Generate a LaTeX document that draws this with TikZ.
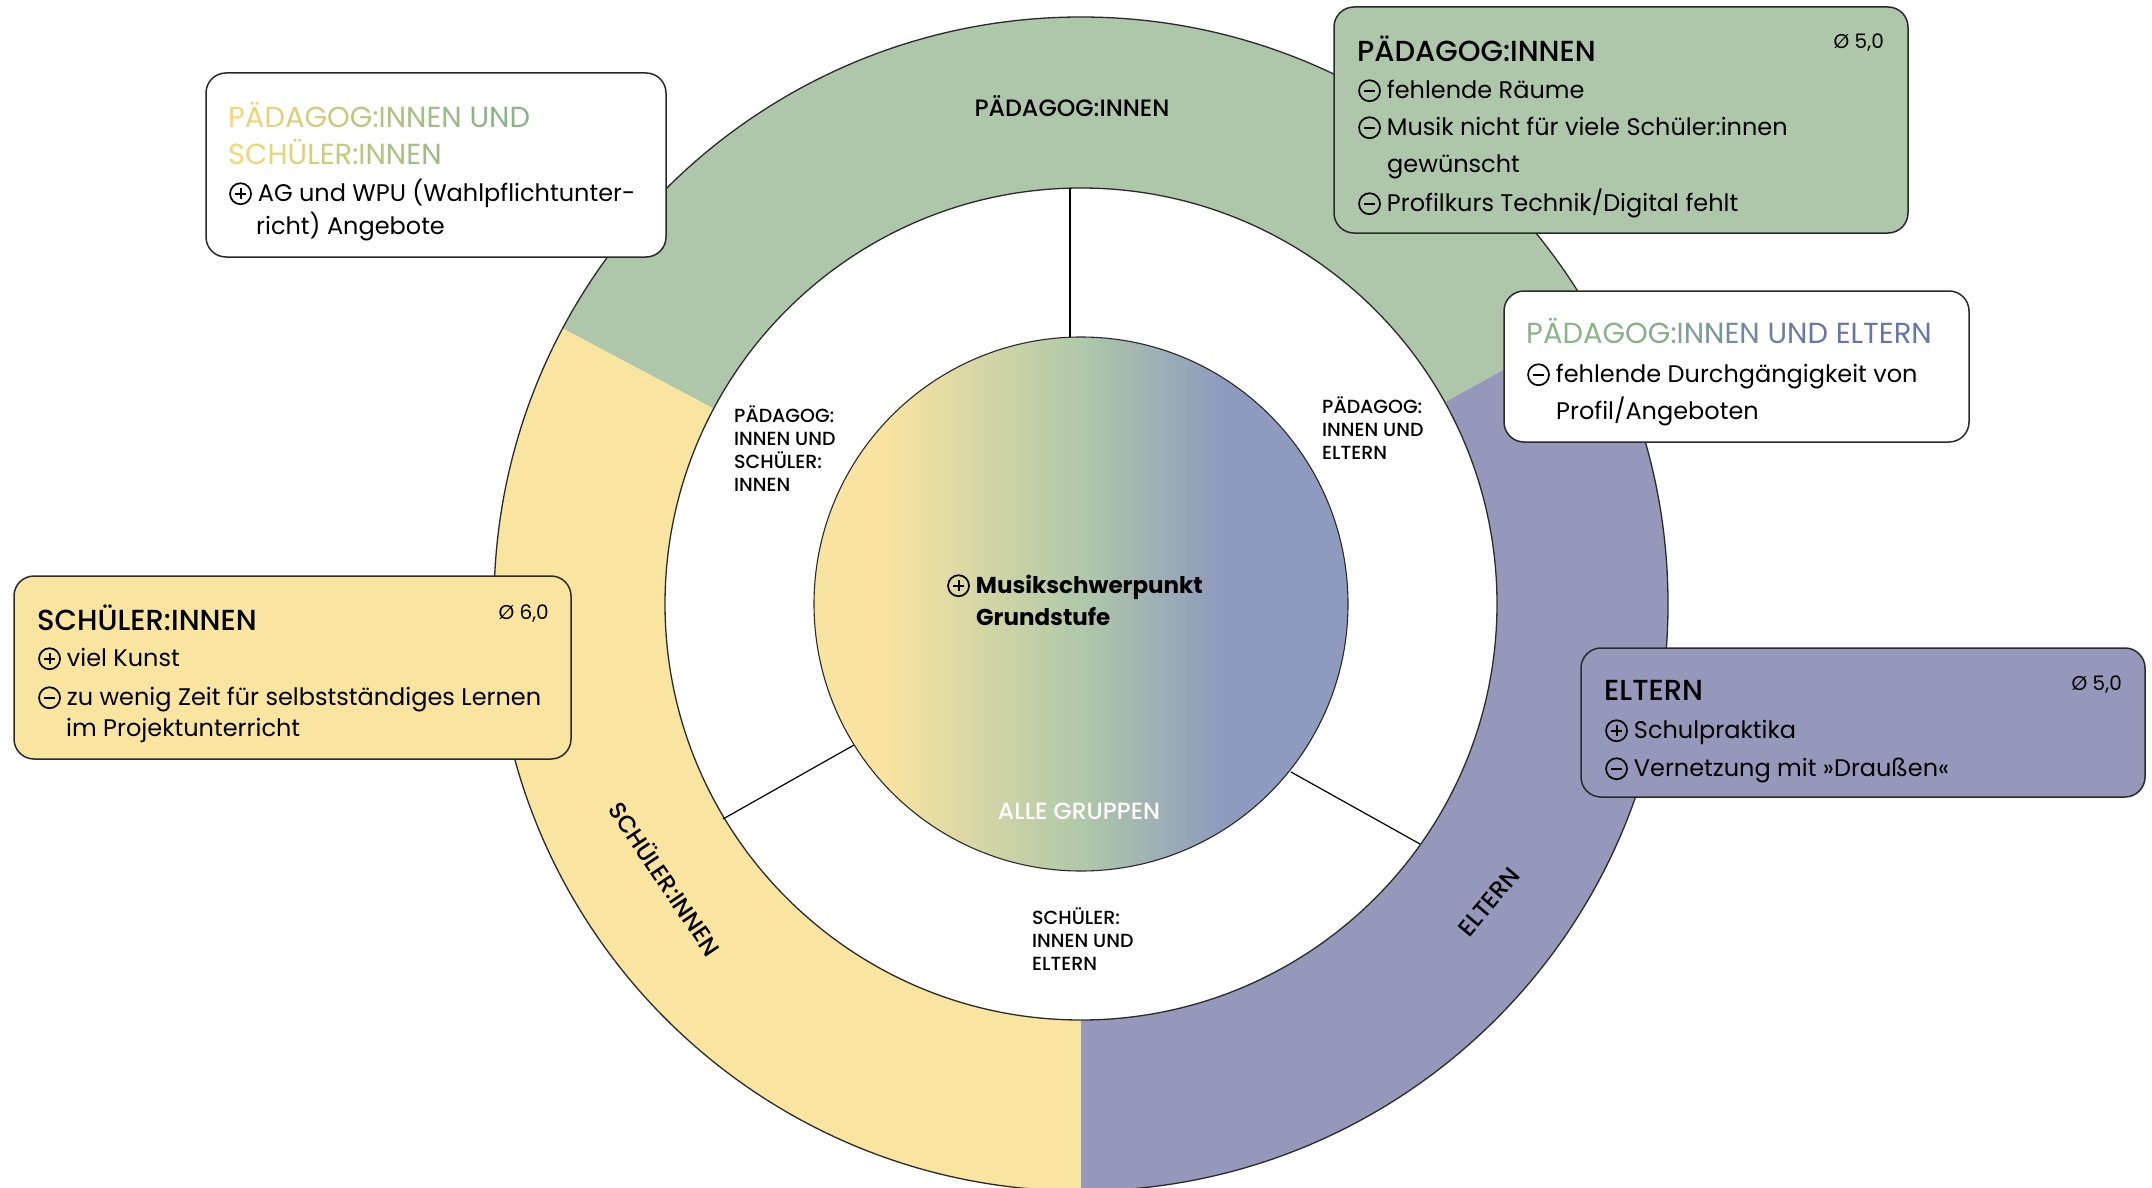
\documentclass[tikz,border=0pt]{standalone}
\usepackage{fontspec}
\setmainfont{Poppins}
\newfontfamily\pmed{Poppins Medium}

% palette
\definecolor{ringgreen}{HTML}{AEC7AA}
\definecolor{ringyellow}{HTML}{F9E4A0}
\definecolor{ringblue}{HTML}{9598BB}
\definecolor{edge}{HTML}{2A2A2A}
\definecolor{tY}{HTML}{F4D872}
\definecolor{tG}{HTML}{8AB588}
\definecolor{tB}{HTML}{6676A9}
\definecolor{cY}{HTML}{F8E3A0}
\definecolor{cG}{HTML}{B0C8AA}
\definecolor{cB}{HTML}{8F9BBE}

% yellow -> green -> blue, flat at both ends
\pgfdeclarehorizontalshading{centregrad}{100bp}{color(0bp)=(cY); color(32bp)=(cY); color(50bp)=(cG); color(63bp)=(cB); color(100bp)=(cB)}

% letter-by-letter colour blends for the mixed-group headings
\newcommand\gy[2]{\textcolor{tY!#1!tG}{#2}}
\newcommand\gb[2]{\textcolor{tG!#1!tB}{#2}}

% circled plus / minus marks
\newsavebox\plusbox
\newsavebox\minusbox
\newcommand\plusicon{\usebox\plusbox\hspace{6pt}}
\newcommand\minusicon{\usebox\minusbox\hspace{6pt}}
\newcommand\markring{%
  \pgfsetlinewidth{1.7pt}%
  \pgfpathcircle{\pgfpoint{0pt}{8pt}}{10.5pt}\pgfusepath{stroke}%
  \pgfsetlinewidth{1.9pt}%
  \pgfpathmoveto{\pgfpoint{-5.5pt}{8pt}}\pgfpathlineto{\pgfpoint{5.5pt}{8pt}}\pgfusepath{stroke}}

\tikzset{
  panel/.style={draw=edge, line width=1.5pt, rounded corners=20pt, inner sep=0pt},
  ttl/.style={anchor=mid west, inner sep=0pt, font=\pmed\fontsize{29}{32}\selectfont},
  ttlmix/.style={anchor=mid west, inner sep=0pt, font=\fontsize{29}{32}\selectfont},
  body/.style={anchor=mid west, inner sep=0pt, font=\fontsize{24}{30}\selectfont},
  avg/.style={anchor=mid east, inner sep=0pt, font=\fontsize{20}{24}\selectfont},
  ringlbl/.style={inner sep=0pt, font=\pmed\fontsize{23.7}{26}\selectfont},
  innerlbl/.style={anchor=north west, align=left, inner sep=0pt, font=\pmed\fontsize{19}{23}\selectfont},
  divider/.style={draw=black, line width=1.2pt},
}

\begin{document}
\sbox\plusbox{\begin{pgfpicture}\markring
  \pgfpathmoveto{\pgfpoint{0pt}{2.5pt}}\pgfpathlineto{\pgfpoint{0pt}{13.5pt}}\pgfusepath{stroke}%
  \pgfsetbaseline{0pt}\end{pgfpicture}}%
\sbox\minusbox{\begin{pgfpicture}\markring\pgfsetbaseline{0pt}\end{pgfpicture}}%
\begin{tikzpicture}[x=1pt,y=-1pt]
\useasboundingbox (0,0) rectangle (2152,1188);
\fill[white] (0,0) rectangle (2152,1188);

\coordinate (C) at (1081,604);

% outer ring, three groups
\fill[ringgreen]  (C) -- ([shift={(C)}]-29:587)  arc[start angle=-29,  end angle=-152, radius=587] -- cycle;
\fill[ringyellow] (C) -- ([shift={(C)}]-152:587) arc[start angle=-152, end angle=-270, radius=587] -- cycle;
\fill[ringblue]   (C) -- ([shift={(C)}]-270:587) arc[start angle=-270, end angle=-389, radius=587] -- cycle;
\fill[white] (C) circle[radius=416];
\draw[edge, line width=1.3pt] (C) circle[radius=587];
\draw[edge, line width=1.3pt] (C) circle[radius=416];

% dividers of the overlap zone
\coordinate (dT1) at (1070,188); \coordinate (dT2) at (1070,337);
\coordinate (dL1) at (723,819);  \coordinate (dL2) at (854,745);
\coordinate (dR1) at (1420,844); \coordinate (dR2) at (1291,772);
\draw[divider] (dT1) -- (dT2);
\draw[divider] (dL1) -- (dL2);
\draw[divider] (dR1) -- (dR2);

% core
\node[circle, inner sep=0pt, minimum size=534pt, draw=edge, line width=1.1pt, shading=centregrad] (core) at (C) {};
\node[body, font=\bfseries\fontsize{23}{30}\selectfont] (coreA) at (947,591) {\plusicon Musikschwerpunkt};
\node[body, font=\bfseries\fontsize{23}{30}\selectfont] (coreB) at (976,623) {Grundstufe};
\node[ringlbl, text=white, font=\pmed\fontsize{23.5}{26}\selectfont] (all) at (1079,811) {ALLE GRUPPEN};

% ring labels
\node[ringlbl] (rP) at (1072,106) {PÄDAGOG:INNEN};
\node[ringlbl, rotate=-56] (rS) at (666,878) {SCHÜLER:INNEN};
\node[ringlbl, rotate=50] (rE) at (1489,902) {ELTERN};

% overlap labels
\node[innerlbl] (oPS) at (734,405) {PÄDAGOG:\\INNEN UND\\SCHÜLER:\\INNEN};
\node[innerlbl] (oPE) at (1322,396) {PÄDAGOG:\\INNEN UND\\ELTERN};
\node[innerlbl] (oSE) at (1032,907) {SCHÜLER:\\INNEN UND\\ELTERN};

% panel: teachers and pupils
\node[panel, fill=white, minimum width=460pt, minimum height=184pt] (boxA) at (436,165) {};
\node[ttlmix] (aT1) at (228,125) {\gy{100}{P}\gy{92}{Ä}\gy{84}{D}\gy{76}{A}\gy{67}{G}\gy{58}{O}\gy{49}{G}\gy{43}{:}\gy{40}{I}\gy{35}{N}\gy{27}{N}\gy{20}{E}\gy{13}{N} \gy{3}{U}\gy{0}{N}\gy{0}{D}};
\node[ttlmix] (aT2) at (228,162) {\gy{100}{S}\gy{94}{C}\gy{88}{H}\gy{80}{Ü}\gy{72}{L}\gy{65}{E}\gy{58}{R}\gy{52}{:}\gy{48}{I}\gy{40}{N}\gy{32}{N}\gy{25}{E}\gy{18}{N}};
\node[body] (aI1) at (229,199) {\plusicon AG und WPU (Wahlpflichtunter-};
\node[body] (aI1b) at (256,232) {richt) Angebote};

% panel: teachers
\node[panel, fill=ringgreen, minimum width=574pt, minimum height=226pt] (boxB) at (1621,120) {};
\node[ttl] (bT) at (1357,59) {PÄDAGOG:INNEN};
\node[avg] (bAvg) at (1884,46) {Ø 5,0};
\node[body] (bI1) at (1358,96) {\minusicon fehlende Räume};
\node[body] (bI2) at (1358,133) {\minusicon Musik nicht für viele Schüler:innen};
\node[body] (bI2b) at (1387,170) {gewünscht};
\node[body] (bI3) at (1358,209) {\minusicon Profilkurs Technik/Digital fehlt};

% panel: teachers and parents
\node[panel, fill=white, minimum width=465pt, minimum height=151pt] (boxC) at (1736.5,366.5) {};
\node[ttlmix] (cT) at (1526,341) {\gb{100}{P}\gb{100}{Ä}\gb{100}{D}\gb{100}{A}\gb{95}{G}\gb{90}{O}\gb{85}{G}\gb{80}{:}\gb{75}{I}\gb{65}{N}\gb{50}{N}\gb{40}{E}\gb{30}{N} \gb{15}{U}\gb{8}{N}\gb{0}{D} \gb{0}{ELTERN}};
\node[body] (cI1) at (1527,380) {\minusicon fehlende Durchgängigkeit von};
\node[body] (cI1b) at (1556,417) {Profil/Angeboten};

% panel: pupils
\node[panel, fill=ringyellow, minimum width=557pt, minimum height=183pt] (boxD) at (292.5,667.5) {};
\node[ttl] (dT) at (37,628) {SCHÜLER:INNEN};
\node[avg] (dAvg) at (549,617) {Ø 6,0};
\node[body] (dI1) at (38,664) {\plusicon viel Kunst};
\node[body] (dI2) at (38,703) {\minusicon zu wenig Zeit für selbstständiges Lernen};
\node[body] (dI2b) at (66,734) {im Projektunterricht};

% panel: parents
\node[panel, fill=ringblue, minimum width=564pt, minimum height=149pt] (boxE) at (1863,722.5) {};
\node[ttl] (eT) at (1604,698) {ELTERN};
\node[avg] (eAvg) at (2122,688) {Ø 5,0};
\node[body] (eI1) at (1605,736) {\plusicon Schulpraktika};
\node[body] (eI2) at (1605,774) {\minusicon Vernetzung mit »Draußen«};
\end{tikzpicture}
\end{document}
